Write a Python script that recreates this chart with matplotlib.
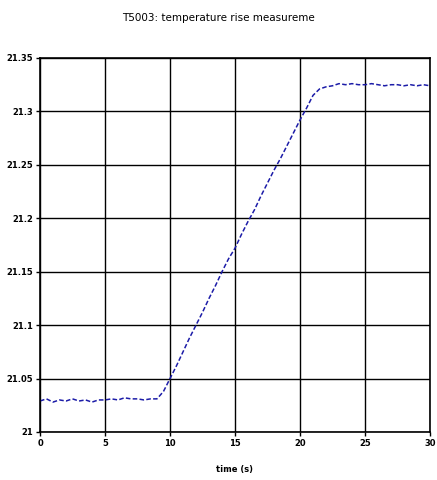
import matplotlib
matplotlib.use("Agg")
import matplotlib.pyplot as plt

# time (s), sampled every 0.5 s
time_s = [i * 0.5 for i in range(61)]
temp = [21.029, 21.031, 21.028, 21.030, 21.029, 21.031, 21.029, 21.030, 21.028, 21.030,
        21.030, 21.031, 21.030, 21.032, 21.031, 21.031, 21.030, 21.031, 21.031, 21.038,
        21.050, 21.062, 21.075, 21.088, 21.100, 21.112, 21.125, 21.137, 21.150, 21.162,
        21.172, 21.185, 21.197, 21.208, 21.221, 21.233, 21.245, 21.256, 21.268, 21.280,
        21.292, 21.303, 21.315, 21.321, 21.323, 21.324, 21.326, 21.325, 21.326, 21.325,
        21.325, 21.326, 21.325, 21.324, 21.325, 21.325, 21.324, 21.325, 21.324, 21.325,
        21.324]

xticks = [0, 5, 10, 15, 20, 25, 30]
yticks = [21, 21.05, 21.1, 21.15, 21.2, 21.25, 21.3, 21.35]
ytick_labels = ["21", "21.05", "21.1", "21.15", "21.2", "21.25", "21.3", "21.35"]

fig = plt.figure(figsize=(4.37, 4.80), dpi=100)
ax = fig.add_axes([40/437, 48/480, 390/437, 374/480])

ax.plot(time_s, temp, color="#1c1ca8", linewidth=1.1, linestyle=(0, (3, 1.5)))

ax.set_xlim(0, 30)
ax.set_ylim(21, 21.35)
ax.set_xticks(xticks)
ax.set_yticks(yticks)
ax.set_yticklabels(ytick_labels)
ax.grid(True, color="black", linewidth=1.0)
ax.set_axisbelow(True)
for s in ax.spines.values():
    s.set_linewidth(1.2)
ax.tick_params(direction="out", length=3, width=1, labelsize=6, pad=2)
for lbl in ax.get_xticklabels() + ax.get_yticklabels():
    lbl.set_fontweight("bold")

ax.set_xlabel("time (s)", fontsize=6, fontweight="bold", labelpad=12)
fig.text(0.5, 0.963, "T5003: temperature rise measureme", ha="center", va="center", fontsize=7.5)

fig.savefig("out.png", dpi=100)
